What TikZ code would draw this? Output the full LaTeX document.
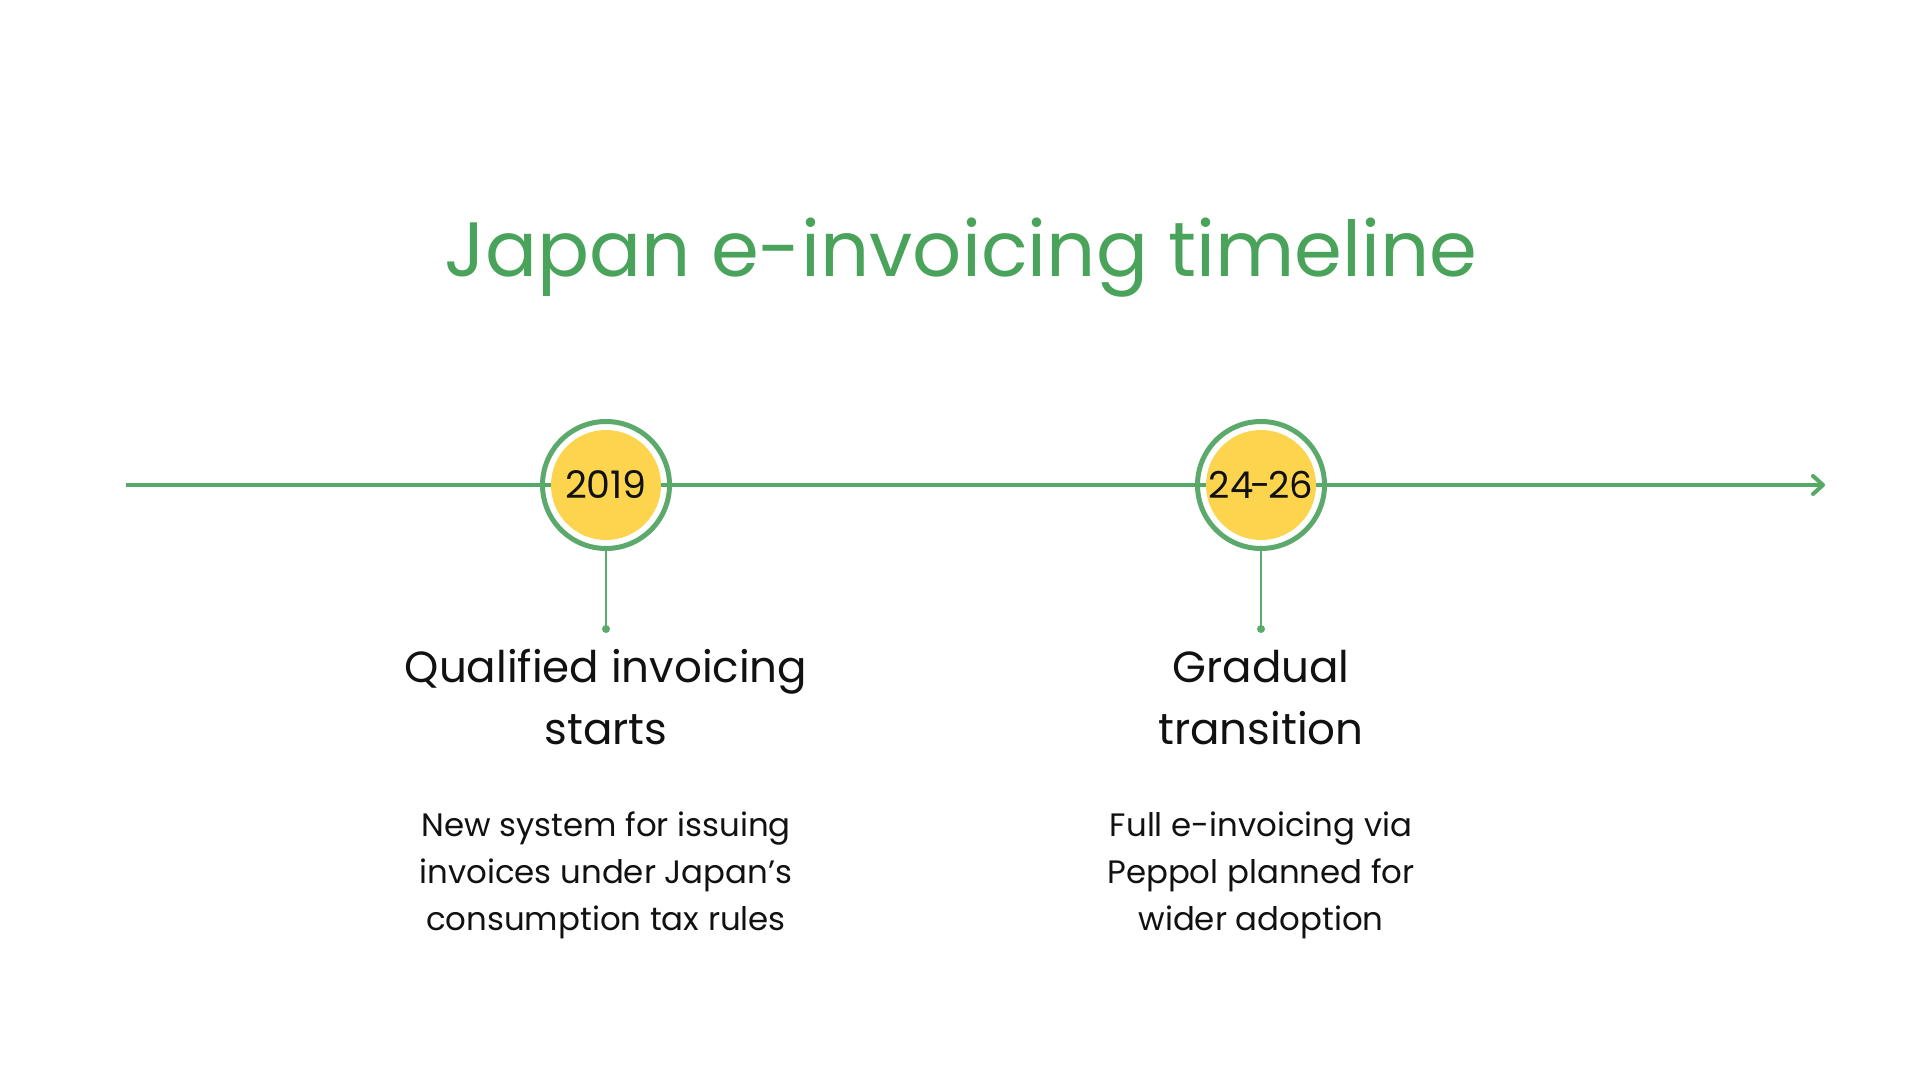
\documentclass[tikz,border=0pt]{standalone}
\usepackage{fontspec}
\setmainfont{Poppins}
\usetikzlibrary{arrows.meta}
\definecolor{titlegreen}{HTML}{4AA35A}
\definecolor{linegreen}{HTML}{55A865}
\definecolor{ringgreen}{HTML}{5BAA6B}
\definecolor{dotyellow}{HTML}{FCD44E}
\definecolor{textblack}{HTML}{111111}
\tikzset{
  timeline/.style={draw=linegreen, line width=2pt, -{Straight Barb[length=5pt,width=9pt,line cap=round,line join=round]}},
  ring/.style={circle, draw=ringgreen, line width=2.5pt, minimum size=63.5pt, inner sep=0pt},
  yeardot/.style={circle, fill=dotyellow, minimum size=55pt, inner sep=0pt, text=textblack, font={\fontsize{19}{21}\selectfont}},
  stem/.style={draw=ringgreen, line width=1pt},
  stemdot/.style={circle, fill=ringgreen, minimum size=4pt, inner sep=0pt},
  heading/.style={align=center, anchor=base, text=textblack, inner sep=0pt, font={\fontsize{21.8}{31}\selectfont}},
  body/.style={align=center, anchor=base, text=textblack, inner sep=0pt, font={\fontsize{16.2}{23.3}\selectfont}},
  titlestyle/.style={anchor=base, text=titlegreen, inner sep=0pt, font={\fontsize{38.5}{42}\selectfont}}
}
\begin{document}
\begin{tikzpicture}[x=0.5pt,y=-0.5pt]
\useasboundingbox[fill=white] (0,0) rectangle (1920,1080);
\node[titlestyle] (title) at (961,277) {Japan e-invoicing timeline};
\coordinate (tstart) at (126,485);
\coordinate (tend) at (1825,485);
\draw[timeline] (tstart) -- (tend);
% milestone 1
\node[ring] (r1) at (606,485) {};
\node[yeardot] (y1) at (606,485) {2019};
\coordinate (s1) at (606,629);
\draw[stem] (r1.south) -- (s1);
\node[stemdot] (d1) at (s1) {};
\node[heading] (h1) at (606,744) {Qualified invoicing\\starts};
\node[body] (b1) at (606,930) {New system for issuing\\invoices under Japan’s\\consumption tax rules};
% milestone 2
\node[ring] (r2) at (1261,485) {};
\node[yeardot] (y2) at (1261,485) {\fontsize{18.5}{21}\selectfont 24\kern-1.4pt-\kern-1.4pt26};
\coordinate (s2) at (1261,629);
\draw[stem] (r2.south) -- (s2);
\node[stemdot] (d2) at (s2) {};
\node[heading] (h2) at (1261,744) {Gradual\\transition};
\node[body] (b2) at (1261,930) {Full e-invoicing via\\Peppol planned for\\wider adoption};
\end{tikzpicture}
\end{document}
